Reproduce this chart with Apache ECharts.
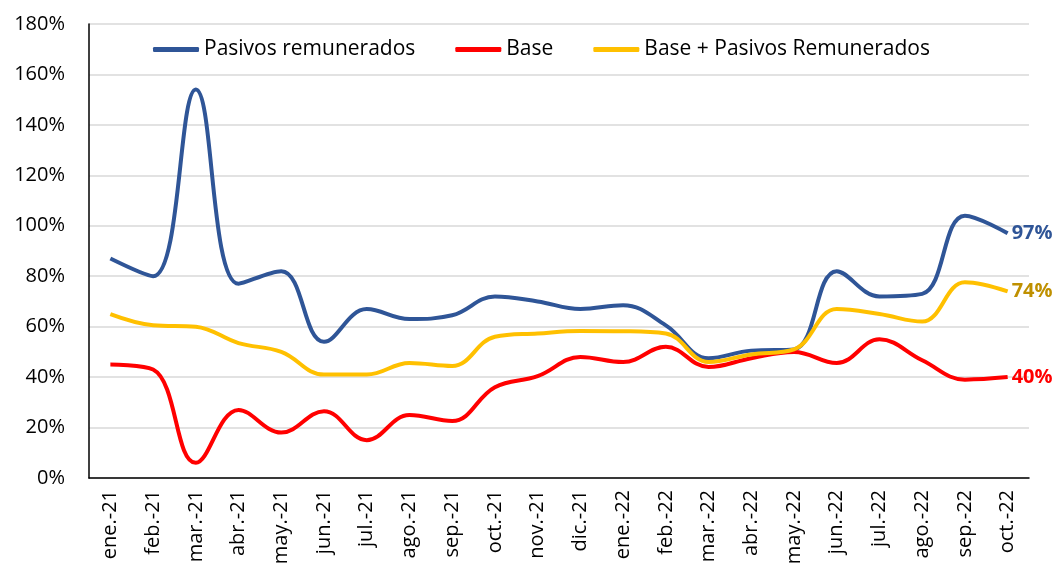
<!DOCTYPE html>
<html>
<head>
<meta charset="utf-8">
<script src="https://cdn.jsdelivr.net/npm/echarts@6/dist/echarts.min.js"></script>
<style>
  html, body { margin: 0; padding: 0; background: #fff; }
  #main { width: 1056px; height: 571px; }
</style>
</head>
<body>
<div id="main"></div>
<script>
var meses = ['ene.-21', 'feb.-21', 'mar.-21', 'abr.-21', 'may.-21', 'jun.-21', 'jul.-21', 'ago.-21',
  'sep.-21', 'oct.-21', 'nov.-21', 'dic.-21', 'ene.-22', 'feb.-22', 'mar.-22', 'abr.-22',
  'may.-22', 'jun.-22', 'jul.-22', 'ago.-22', 'sep.-22', 'oct.-22'];
var pasivos = [87, 80, 154, 77, 82, 54, 67, 63, 64.5, 72, 70, 67, 68.5, 60.5, 47.5, 50.5, 51, 82, 72, 73, 104, 97];
var base = [45, 43, 6, 27, 18, 26.5, 15, 25, 22.6, 36, 40.4, 48, 46, 52, 44, 47.5, 50, 45.6, 55, 46.7, 39, 40];
var total = [65, 60.6, 60, 53.5, 50, 41, 41, 45.6, 44.4, 56, 57.3, 58.3, 58.2, 57.3, 46, 49, 51, 67, 65, 62, 77.6, 74];

var myChart = echarts.init(document.getElementById('main'));
var fuente = 'Open Sans';

function serie(nombre, datos, color, colorEtiqueta) {
  return {
    name: nombre,
    type: 'line',
    data: datos,
    smooth: 0.4,
    symbol: 'none',
    lineStyle: { width: 4, color: color },
    itemStyle: { color: color },
    endLabel: {
      show: true,
      formatter: function (p) { return Math.round(p.value) + '%'; },
      color: colorEtiqueta,
      fontFamily: fuente,
      fontWeight: 'bold',
      fontSize: 20,
      distance: 4
    }
  };
}

option = {
  animation: false,
  textStyle: { fontFamily: fuente },
  legend: {
    left: 148,
    top: 34,
    icon: 'roundRect',
    itemWidth: 46,
    itemHeight: 5,
    itemGap: 40,
    textStyle: { fontSize: 21, color: '#000', fontFamily: fuente },
    data: ['Pasivos remunerados', 'Base', 'Base + Pasivos Remunerados']
  },
  grid: {
    left: 89,
    right: 27,
    top: 24,
    bottom: 93
  },
  xAxis: {
    type: 'category',
    data: meses,
    axisLine: { lineStyle: { color: '#000', width: 1.5 } },
    axisTick: { show: false },
    axisLabel: {
      rotate: 90,
      interval: 0,
      color: '#000',
      fontSize: 20,
      fontFamily: fuente,
      margin: 12
    }
  },
  yAxis: {
    type: 'value',
    min: 0,
    max: 180,
    interval: 20,
    axisLine: { show: true, lineStyle: { color: '#000', width: 1.5 } },
    axisTick: { show: false },
    splitLine: { lineStyle: { color: '#d9d9d9', width: 1.5 } },
    axisLabel: {
      formatter: '{value}%',
      color: '#000',
      fontSize: 20,
      fontFamily: fuente,
      margin: 24
    }
  },
  series: [
    serie('Pasivos remunerados', pasivos, '#2F5597', '#2F5597'),
    serie('Base', base, '#FF0000', '#FF0000'),
    serie('Base + Pasivos Remunerados', total, '#FFC000', '#BF9000')
  ]
};

myChart.setOption(option);
</script>
</body>
</html>
